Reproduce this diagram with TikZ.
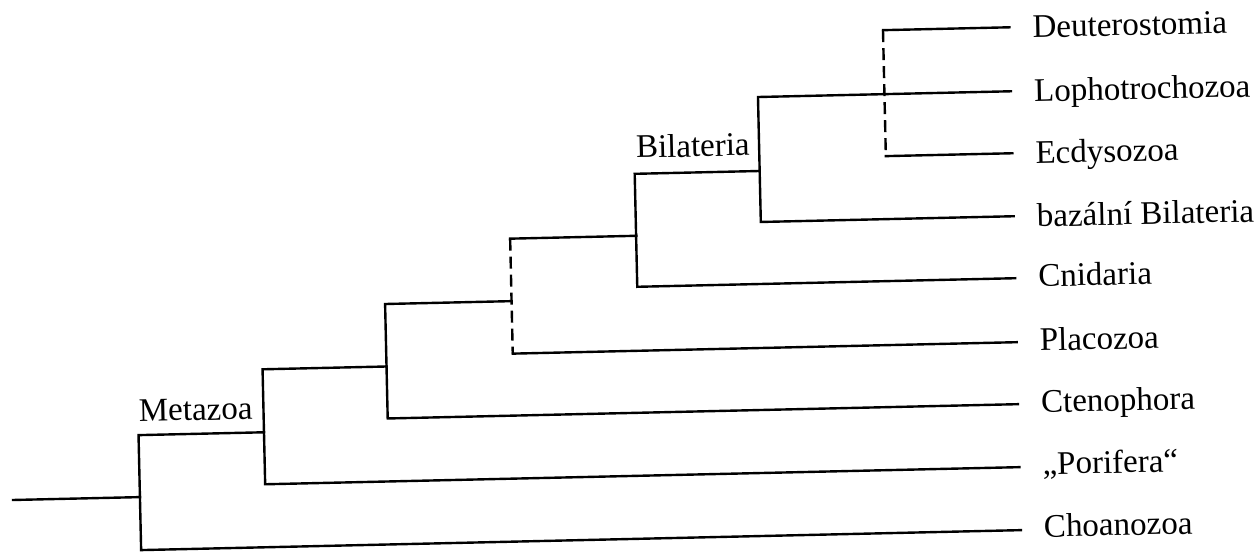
\documentclass[tikz,border=0pt]{standalone}
\usepackage{fontspec}
\setmainfont{Liberation Serif}
\tikzset{
  branch/.style={line width=2.4pt, line cap=rect, line join=miter},
  uncertain/.style={line width=2.4pt, dash pattern=on 12pt off 6pt},
  taxon/.style={anchor=base west, inner sep=0pt, font=\fontsize{33}{40}\selectfont},
  clade/.style={anchor=base west, inner sep=0pt, font=\fontsize{33}{40}\selectfont}
}
\begin{document}
\begin{tikzpicture}[x=1pt,y=1pt]
\useasboundingbox (0,0) rectangle (1257,-551);
\fill[white] (0,0) rectangle (1257,-551);
\begin{scope}[rotate around={1.3:(628,-275)}, transform shape]
  % leaf ends and labels
  \coordinate (eDeut)  at (1015,-36);
  \coordinate (eLoph)  at (1015,-100);
  \coordinate (eEcdy)  at (1015,-162);
  \coordinate (eBaz)   at (1015,-225);
  \coordinate (eCnid)  at (1015,-287);
  \coordinate (ePlac)  at (1015,-351);
  \coordinate (eCten)  at (1015,-413);
  \coordinate (ePorif) at (1015,-476);
  \coordinate (eChoan) at (1015,-539);
  \node[taxon] (deut)  at (1038,-47)  {Deuterostomia};
  \node[taxon] (loph)  at (1038,-111) {Lophotrochozoa};
  \node[taxon] (ecdy)  at (1038,-173) {Ecdysozoa};
  \node[taxon] (baz)   at (1038,-236) {bazální Bilateria};
  \node[taxon] (cnid)  at (1038,-296) {Cnidaria};
  \node[taxon] (plac)  at (1038,-360) {Placozoa};
  \node[taxon] (cten)  at (1038,-422) {Ctenophora};
  \node[taxon] (porif) at (1038,-484) {„Porifera“};
  \node[taxon] (choan) at (1038,-546.5) {Choanozoa};
  % internal nodes
  \coordinate (root) at (8,-486);
  \coordinate (n1) at (135,-486);
  \coordinate (n2) at (260.5,-424);
  \coordinate (n3) at (384.5,-361);
  \coordinate (n4) at (511,-298.5);
  \coordinate (n4t) at (511,-236);
  \coordinate (n4b) at (511,-351);
  \coordinate (n5) at (637,-236);
  \coordinate (n6) at (762,-174);
  \coordinate (n7t) at (888.5,-36);
  \coordinate (n7b) at (888.5,-162);
  % clade labels
  \node[clade] (metazoa) at (135.7,-410.5) {Metazoa};
  \node[clade] (bilateria) at (638.7,-158.2) {Bilateria};
  % branches
  \draw[branch] (root) -- (n1);
  \draw[branch] (n1) |- (n2);
  \draw[branch] (n1) |- (eChoan);
  \draw[branch] (n2) |- (n3);
  \draw[branch] (n2) |- (ePorif);
  \draw[branch] (n3) |- (n4);
  \draw[branch] (n3) |- (eCten);
  \draw[uncertain] (n4t) -- (n4b);
  \draw[branch] (n4t) -- (n5);
  \draw[branch] (n4b) -- (ePlac);
  \draw[branch] (n5) |- (n6);
  \draw[branch] (n5) |- (eCnid);
  \draw[branch] (n6) |- (eLoph);
  \draw[branch] (n6) |- (eBaz);
  \draw[uncertain] (n7t) -- (n7b);
  \draw[branch] (n7t) -- (eDeut);
  \draw[branch] (n7b) -- (eEcdy);
\end{scope}
\end{tikzpicture}
\end{document}
